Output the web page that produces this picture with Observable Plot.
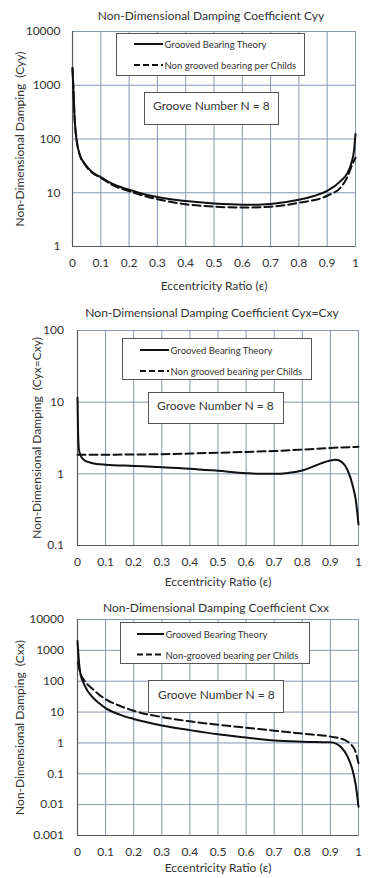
<!DOCTYPE html>
<html>
<head>
<meta charset="utf-8">
<script src="https://cdn.jsdelivr.net/npm/d3@7"></script>
<script src="https://cdn.jsdelivr.net/npm/@observablehq/plot@0.6"></script>
<style>
  body { margin: 0; background: #fff; font-family: Lato, "Open Sans", sans-serif; color: #333; }
  #root { position: relative; width: 377px; height: 878px; overflow: hidden; background: #fff; }
  .panel { position: absolute; left: 0; }
  .title { position: absolute; font-size: 12px; white-space: nowrap; transform: translate(-50%, -50%); color: #333; }
  .box { position: absolute; border: 1px solid #555; background: #fff; box-sizing: border-box; }
  .box .row { position: absolute; left: 0; font-size: 9.5px; white-space: nowrap; transform: translateY(-50%); color: #333; }
  .box svg { position: absolute; left: 0; top: 0; overflow: visible; }
  .groove { font-size: 12px; white-space: nowrap; position: absolute; transform: translateY(-50%); color: #333; }
</style>
</head>
<body>
<div id="root"></div>
<script>
// ---------- data ----------
const xTicks = [0, 0.1, 0.2, 0.3, 0.4, 0.5, 0.6, 0.7, 0.8, 0.9, 1];

// Panel 1: Cyy
const cyyGroovedEps = [0, 0.002, 0.008, 0.014, 0.025, 0.043, 0.07, 0.1, 0.14, 0.2, 0.25, 0.3, 0.4, 0.5, 0.6, 0.65, 0.7, 0.8, 0.85, 0.9, 0.95, 0.97, 0.985, 0.995, 1.0];
const cyyGrooved    = [2100, 1200, 220, 100, 52, 35, 24, 19.6, 14.7, 11.4, 9.5, 8.3, 7.0, 6.3, 6.0, 6.0, 6.2, 7.4, 8.6, 10.8, 17, 22.5, 35, 62, 124];
const cyyChildsEps  = [0, 0.002, 0.008, 0.014, 0.025, 0.043, 0.07, 0.1, 0.14, 0.2, 0.25, 0.3, 0.4, 0.5, 0.6, 0.7, 0.8, 0.9, 0.95, 0.97, 0.99, 1.0];
const cyyChilds     = [2100, 1200, 220, 100, 52, 34, 23.5, 19, 14, 10.7, 8.8, 7.6, 6.1, 5.5, 5.3, 5.5, 6.5, 8.8, 13, 19, 35, 45];
const cyyTicks = [1, 10, 100, 1000, 10000];

// Panel 2: Cyx = Cxy
const cyxGroovedEps = [0, 0.002, 0.005, 0.01, 0.02, 0.03, 0.05, 0.1, 0.2, 0.3, 0.4, 0.5, 0.6, 0.65, 0.7, 0.75, 0.8, 0.85, 0.9, 0.92, 0.94, 0.96, 0.98, 0.99, 1.0];
const cyxGrooved    = [11.5, 4, 2.2, 1.85, 1.6, 1.5, 1.42, 1.34, 1.29, 1.24, 1.18, 1.1, 1.02, 1.0, 1.0, 1.03, 1.11, 1.32, 1.54, 1.57, 1.47, 1.15, 0.67, 0.44, 0.197];
const cyxChildsEps  = [0, 0.1, 0.2, 0.3, 0.4, 0.5, 0.6, 0.7, 0.8, 0.9, 1.0];
const cyxChilds     = [1.85, 1.85, 1.86, 1.88, 1.92, 1.97, 2.02, 2.08, 2.18, 2.3, 2.38];
const cyxTicks = [0.1, 1, 10, 100];

// Panel 3: Cxx
const cxxGroovedEps = [0, 0.003, 0.006, 0.012, 0.02, 0.035, 0.05, 0.075, 0.1, 0.15, 0.2, 0.3, 0.4, 0.5, 0.6, 0.7, 0.8, 0.9, 0.92, 0.94, 0.96, 0.98, 0.99, 1.0];
const cxxGrooved    = [2000, 800, 350, 150, 95, 50, 33, 20, 13.5, 8.3, 6.0, 3.7, 2.6, 1.9, 1.5, 1.2, 1.1, 1.05, 0.95, 0.7, 0.38, 0.12, 0.045, 0.0085];
const cxxChildsEps  = [0.002, 0.01, 0.02, 0.035, 0.05, 0.075, 0.1, 0.15, 0.2, 0.3, 0.4, 0.5, 0.6, 0.7, 0.8, 0.9, 0.95, 0.97, 0.99, 1.0];
const cxxChilds     = [400, 180, 120, 80, 60, 38, 26, 16, 11, 6.9, 5.0, 3.9, 3.1, 2.5, 2.0, 1.6, 1.25, 0.95, 0.5, 0.22];
const cxxTicks = [0.001, 0.01, 0.1, 1, 10, 100, 1000, 10000];

const groovedName = "Grooved Bearing Theory";
const childsNames = ["Non grooved bearing per Childs", "Non grooved bearing per Childs", "Non-grooved bearing per Childs"];
const titles = ["Non-Dimensional Damping Coefficient Cyy", "Non-Dimensional Damping Coefficient Cyx=Cxy", "Non-Dimensional Damping Coefficient Cxx"];
const yLabels = ["Non-Dimensional Damping  (Cyy)", "Non-Dimensional Damping  (Cyx=Cxy)", "Non-Dimensional Damping  (Cxx)"];
const grooveText = "Groove Number N = 8";

// ---------- drawing ----------
const root = document.getElementById("root");
const gridColor = "#8596b1";
const axisColor = "#5a5a5a";
const lineColor = "#111";

function zip(xs, ys) { return xs.map((x, i) => ({eps: x, value: ys[i]})); }

const panels = [
  {top: 0, height: 295, mt: 31, mb: 49, ml: 72, mr: 22, ticks: cyyTicks,
   grooved: zip(cyyGroovedEps, cyyGrooved), childs: zip(cyyChildsEps, cyyChilds),
   yPad: 12, yLabelOffset: 57, xLabelOffset: 43,
   titleX: 211, titleY: 15,
   legend: {l: 116, t: 33, w: 189, h: 43, r1: 10, r2: 31, s0: 17, s1: 46},
   gbox: {l: 144, t: 92, w: 135, h: 33, tx: 8, ty: 12}},
  {top: 295, height: 295, mt: 35, mb: 45, ml: 77, mr: 19, ticks: cyxTicks,
   grooved: zip(cyxGroovedEps, cyxGrooved), childs: zip(cyxChildsEps, cyxChilds),
   yPad: 13.5, yLabelOffset: 45, xLabelOffset: 40,
   titleX: 212, titleY: 311.5,
   legend: {l: 122, t: 338, w: 190, h: 42, r1: 11, r2: 32, s0: 17, s1: 46},
   gbox: {l: 148, t: 392, w: 136, h: 32, tx: 8, ty: 12}},
  {top: 592, height: 286, mt: 27, mb: 43, ml: 77, mr: 19, ticks: cxxTicks,
   grooved: zip(cxxGroovedEps, cxxGrooved), childs: zip(cxxChildsEps, cxxChilds),
   yPad: 13.5, yLabelOffset: 62, xLabelOffset: 36,
   titleX: 216, titleY: 606.5,
   legend: {l: 120, t: 622, w: 190, h: 42, r1: 11, r2: 31.5, s0: 16, s1: 43},
   gbox: {l: 148, t: 680, w: 136, h: 33, tx: 9, ty: 13}}
];

panels.forEach((p, i) => {
  const ticks = p.ticks;
  const yDomain = [ticks[0], ticks[ticks.length - 1]];
  const chart = Plot.plot({
    width: 377,
    height: p.height,
    marginTop: p.mt, marginBottom: p.mb, marginLeft: p.ml, marginRight: p.mr,
    style: {fontFamily: "Lato, 'Open Sans', sans-serif", fontSize: "12px", color: "#333", background: "transparent", overflow: "visible"},
    x: {domain: [0, 1], ticks: xTicks, tickFormat: d => String(d), tickSize: 0, tickPadding: 12,
        label: "Eccentricity Ratio (ε)", labelAnchor: "center", labelOffset: p.xLabelOffset, labelArrow: "none"},
    y: {type: "log", domain: yDomain, ticks: ticks, tickFormat: d => String(d), tickSize: 0, tickPadding: p.yPad,
        label: yLabels[i], labelAnchor: "center", labelOffset: p.yLabelOffset, labelArrow: "none"},
    marks: [
      Plot.gridX(xTicks, {stroke: gridColor, strokeOpacity: 1, strokeWidth: 1}),
      Plot.gridY(ticks, {stroke: gridColor, strokeOpacity: 1, strokeWidth: 1}),
      Plot.frame({stroke: gridColor}),
      Plot.ruleX([0], {stroke: axisColor, strokeWidth: 1.2}),
      Plot.ruleY([yDomain[0]], {stroke: axisColor, strokeWidth: 1.2}),
      Plot.line(p.childs, {x: "eps", y: "value", curve: "monotone-x", stroke: lineColor, strokeWidth: 2, strokeDasharray: "8,4"}),
      Plot.line(p.grooved, {x: "eps", y: "value", curve: "monotone-x", stroke: lineColor, strokeWidth: 2})
    ]
  });
  const wrap = document.createElement("div");
  wrap.className = "panel";
  wrap.style.top = p.top + "px";
  wrap.appendChild(chart);
  root.appendChild(wrap);

  const t = document.createElement("div");
  t.className = "title";
  t.style.left = p.titleX + "px";
  t.style.top = p.titleY + "px";
  t.textContent = titles[i];
  root.appendChild(t);

  // legend box
  const L = p.legend;
  const lg = document.createElement("div");
  lg.className = "box";
  Object.assign(lg.style, {left: L.l + "px", top: L.t + "px", width: L.w + "px", height: L.h + "px"});
  const ns = "http://www.w3.org/2000/svg";
  const svg = document.createElementNS(ns, "svg");
  svg.setAttribute("width", L.w);
  svg.setAttribute("height", L.h);
  [[L.r1, null], [L.r2, "6,3"]].forEach(([ry, dash]) => {
    const ln = document.createElementNS(ns, "line");
    ln.setAttribute("x1", L.s0); ln.setAttribute("x2", L.s1);
    ln.setAttribute("y1", ry); ln.setAttribute("y2", ry);
    ln.setAttribute("stroke", lineColor); ln.setAttribute("stroke-width", 2);
    if (dash) ln.setAttribute("stroke-dasharray", dash);
    svg.appendChild(ln);
  });
  lg.appendChild(svg);
  [[L.r1, groovedName], [L.r2, childsNames[i]]].forEach(([ry, txt]) => {
    const s = document.createElement("div");
    s.className = "row";
    s.style.left = (L.s1 + 1.5) + "px";
    s.style.top = ry + "px";
    s.textContent = txt;
    lg.appendChild(s);
  });
  root.appendChild(lg);

  // groove number box
  const G = p.gbox;
  const gb = document.createElement("div");
  gb.className = "box";
  Object.assign(gb.style, {left: G.l + "px", top: G.t + "px", width: G.w + "px", height: G.h + "px"});
  const gt = document.createElement("div");
  gt.className = "groove";
  gt.style.left = G.tx + "px";
  gt.style.top = G.ty + "px";
  gt.textContent = grooveText;
  gb.appendChild(gt);
  root.appendChild(gb);
});
</script>
</body>
</html>
